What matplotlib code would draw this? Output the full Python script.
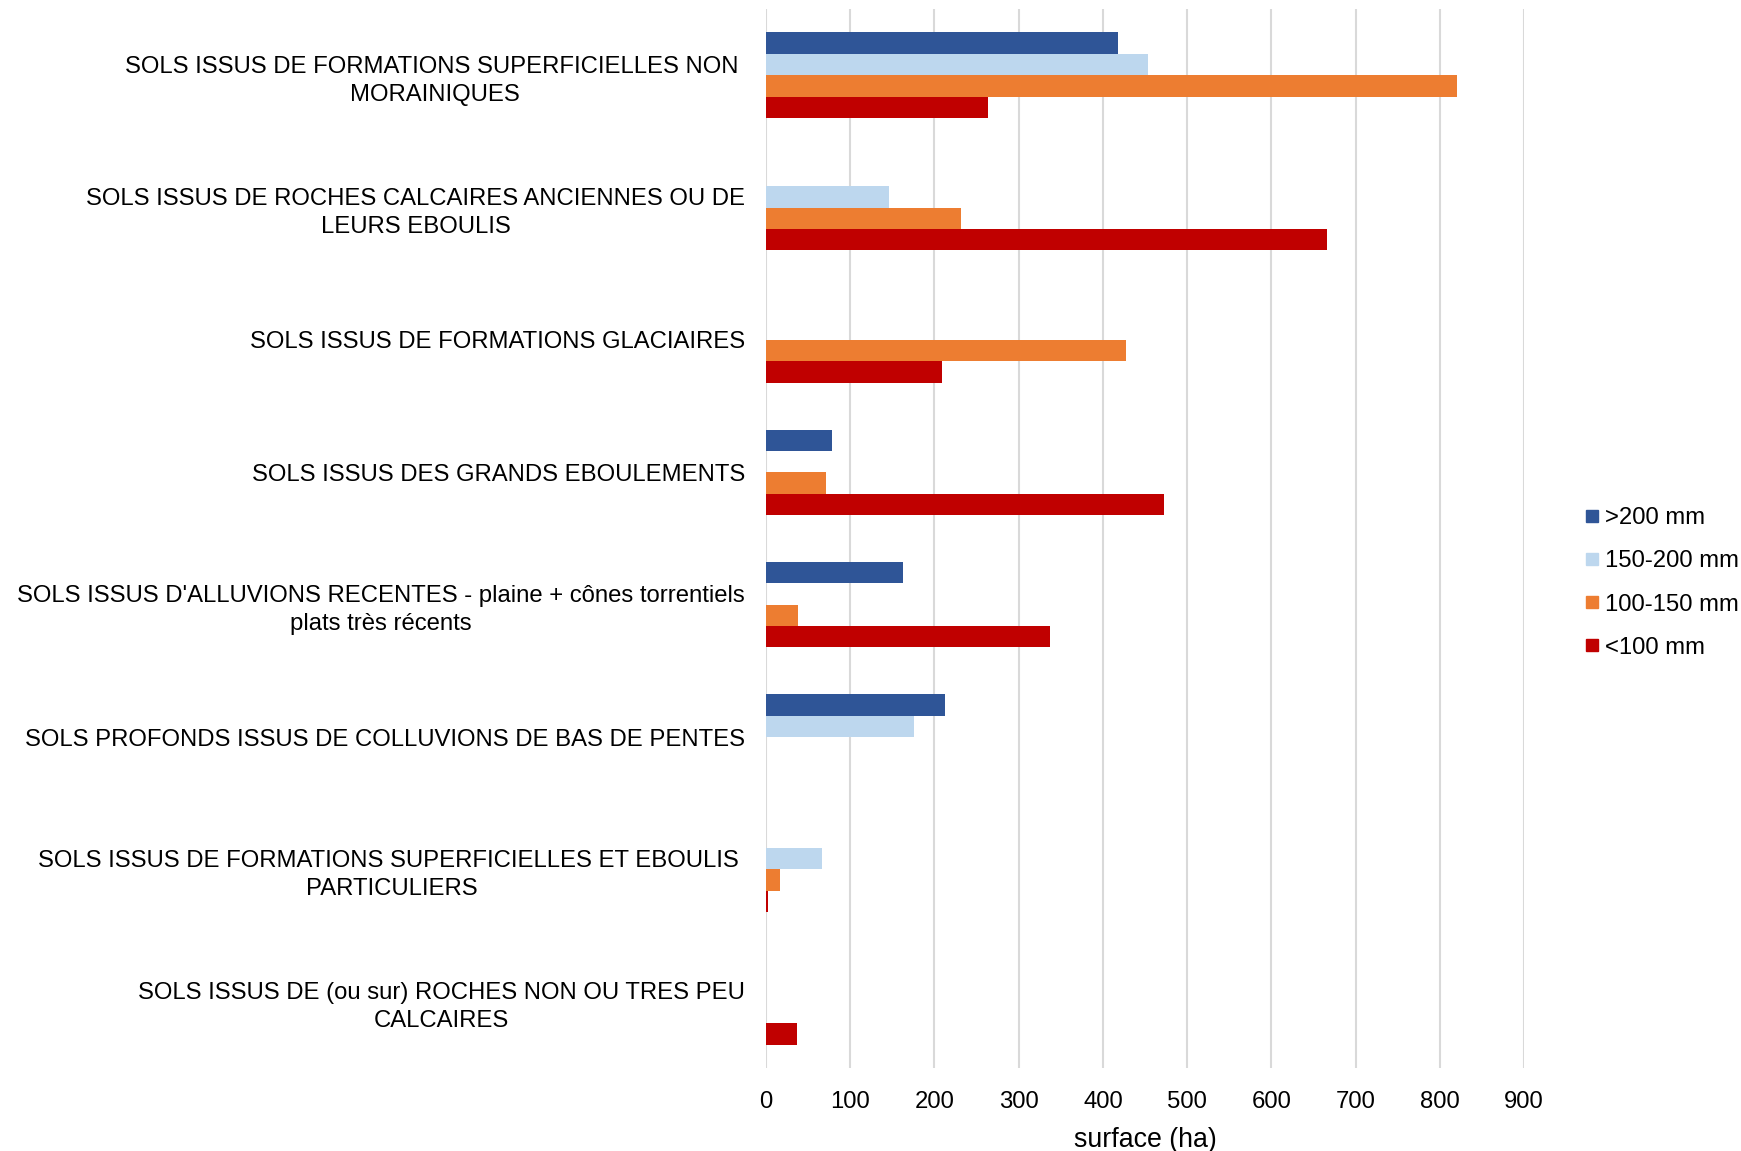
import matplotlib
matplotlib.use("Agg")
import matplotlib.pyplot as plt
import numpy as np
from matplotlib.lines import Line2D

plt.rcParams['font.family'] = ['Liberation Sans', 'DejaVu Sans']

categories = [
    "SOLS ISSUS DE FORMATIONS SUPERFICIELLES NON \nMORAINIQUES",
    "SOLS ISSUS DE ROCHES CALCAIRES ANCIENNES OU DE\nLEURS EBOULIS",
    "SOLS ISSUS DE FORMATIONS GLACIAIRES",
    "SOLS ISSUS DES GRANDS EBOULEMENTS",
    "SOLS ISSUS D'ALLUVIONS RECENTES - plaine + cônes torrentiels\nplats très récents",
    "SOLS PROFONDS ISSUS DE COLLUVIONS DE BAS DE PENTES",
    "SOLS ISSUS DE FORMATIONS SUPERFICIELLES ET EBOULIS \nPARTICULIERS",
    "SOLS ISSUS DE (ou sur) ROCHES NON OU TRES PEU\nCALCAIRES",
]
series_names = [">200 mm", "150-200 mm", "100-150 mm", "<100 mm"]
v_gt200 = [418, 0, 0, 78, 163, 212, 0, 0]
v_150_200 = [453, 146, 0, 0, 0, 176, 67, 0]
v_100_150 = [821, 231, 428, 71, 38, 0, 17, 0]
v_lt100 = [264, 666, 209, 472, 337, 0, 2, 37]
xticks = [0, 100, 200, 300, 400, 500, 600, 700, 800, 900]

colors = ["#2F5597", "#BDD7EE", "#ED7D31", "#C00000"]
series = [v_gt200, v_150_200, v_100_150, v_lt100]

FS = 17.2
fig = plt.figure(figsize=(17.41, 11.51), dpi=100)
W, H = 1741, 1151
left, right, top, bottom = 766, 1524, 9, 1068
ax = fig.add_axes([left / W, 1 - bottom / H, (right - left) / W, (bottom - top) / H])

n = len(categories)
y = np.arange(n)
h = 0.1614
for i, (vals, c) in enumerate(zip(series, colors)):
    ax.barh(y + (i - 1.5) * h, vals, height=h, color=c, label=series_names[i], zorder=3)

ax.set_ylim(n - 0.5, -0.5)
ax.set_xlim(0, 900)
ax.set_xticks(xticks)
ax.set_xticklabels([str(t) for t in xticks])
ax.set_yticks(y)
ax.set_yticklabels(categories, multialignment='center', linespacing=1.35)
ax.tick_params(axis='both', length=0, labelsize=FS, colors='black')
ax.tick_params(axis='y', pad=15)
ax.tick_params(axis='x', pad=16.5)
ax.grid(axis='x', color='#D9D9D9', linewidth=1.5, zorder=0)
for s in ax.spines.values():
    s.set_visible(False)
ax.set_xlabel("surface (ha)", fontsize=19.3, labelpad=10)

handles = [Line2D([0], [0], marker='s', linestyle='none', markersize=9,
                  markerfacecolor=c, markeredgecolor=c) for c in colors]
fig.legend(handles, series_names, loc='center left', bbox_to_anchor=(1568 / W, 1 - 583 / H),
           frameon=False, fontsize=FS, handletextpad=0.05, labelspacing=0.88,
           handlelength=1.0, borderpad=0)

fig.savefig("out.png", dpi=100)
